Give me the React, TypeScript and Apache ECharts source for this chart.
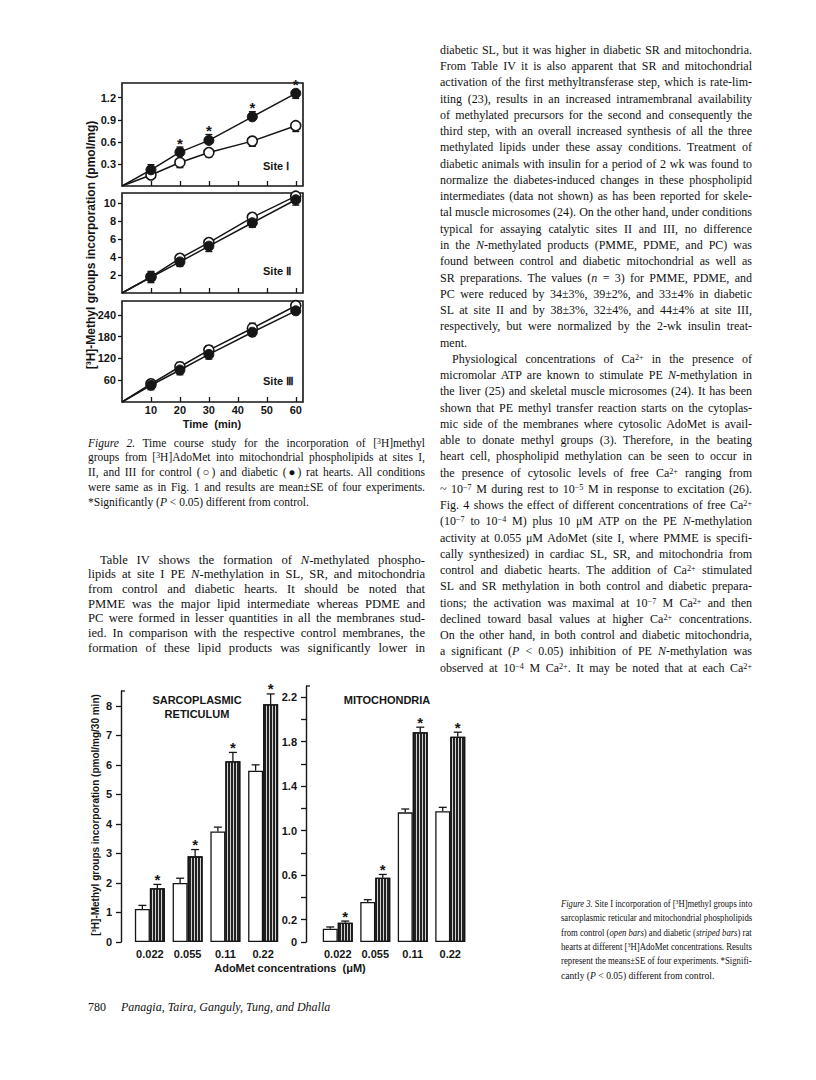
import React, { useEffect, useRef } from "react";
import * as echarts from "echarts";

const INK = "#161616";
const SANS = "'Liberation Sans', Arial, Helvetica, sans-serif";
const SERIF = "'Liberation Serif', 'Times New Roman', serif";

// ---------------- Figure 2 data (time course) ----------------
const times = [10, 20, 30, 45, 60];
const timeTicks = [10, 20, 30, 40, 50, 60];
const site1Ticks = [0.3, 0.6, 0.9, 1.2];
const site2Ticks = [2, 4, 6, 8, 10];
const site3Ticks = [60, 120, 180, 240];
const site1Control = [0.15, 0.32, 0.455, 0.61, 0.82];
const site1Diabetic = [0.22, 0.46, 0.62, 0.94, 1.26];
const site1ControlErr = [-0.03, -0.07, -0.06, -0.07, -0.08];
const site1DiabeticErr = [0.07, 0.07, 0.08, 0.07, -0.07];
const site1Signif = [false, true, true, true, true];
const site2Control = [1.8, 3.85, 5.6, 8.4, 10.75];
const site2Diabetic = [1.75, 3.45, 5.2, 7.8, 10.35];
const site2ControlErr = [0.6, 0.35, 0.35, 0.35, 0.25];
const site2DiabeticErr = [-0.6, -0.5, -0.6, -0.5, -0.6];
const site3Control = [50, 97, 143, 203, 265];
const site3Diabetic = [46, 88, 131, 192, 251];
const site3ControlErr = [10, 12, 12, 14, 8];
const site3DiabeticErr = [-12, -13, -13, -10, -10];

// ---------------- Figure 3 data (AdoMet concentrations) ----------------
const adoMetConc = ["0.022", "0.055", "0.11", "0.22"];
const srTicks = [0, 1, 2, 3, 4, 5, 6, 7, 8];
const srControl = [1.12, 2.0, 3.74, 5.8];
const srDiabetic = [1.82, 2.9, 6.12, 8.05];
const srControlErr = [0.12, 0.16, 0.15, 0.2];
const srDiabeticErr = [0.13, 0.23, 0.3, 0.35];
const mitoTicks = [0, 0.2, 0.4, 0.6, 0.8, 1.0, 1.2, 1.4, 1.6, 1.8, 2.0, 2.2];
const mitoLabels = [0, 0.2, 0.6, 1.0, 1.4, 1.8, 2.2];
const mitoControl = [0.12, 0.36, 1.165, 1.175];
const mitoDiabetic = [0.173, 0.577, 1.885, 1.845];
const mitoControlErr = [0.015, 0.02, 0.03, 0.035];
const mitoDiabeticErr = [0.015, 0.03, 0.045, 0.04];
const diabeticSignif = [true, true, true, true];

// ---------------- Page text ----------------
const SUP = (s: string) =>
  `<span style="font-size:0.68em;vertical-align:0.42em;line-height:0">${s}</span>`;
const I = (s: string) => `<i>${s}</i>`;

type TL = { h: string; left?: boolean; ind?: boolean };

const rightColumn: TL[] = [
  { h: "diabetic SL, but it was higher in diabetic SR and mitochondria." },
  { h: "From Table IV it is also apparent that SR and mitochondrial" },
  { h: "activation of the first methyltransferase step, which is rate-lim-" },
  { h: "iting (23), results in an increased intramembranal availability" },
  { h: "of methylated precursors for the second and consequently the" },
  { h: "third step, with an overall increased synthesis of all the three" },
  { h: "methylated lipids under these assay conditions. Treatment of" },
  { h: "diabetic animals with insulin for a period of 2 wk was found to" },
  { h: "normalize the diabetes-induced changes in these phospholipid" },
  { h: "intermediates (data not shown) as has been reported for skele-" },
  { h: "tal muscle microsomes (24). On the other hand, under conditions" },
  { h: "typical for assaying catalytic sites II and III, no difference" },
  { h: `in the ${I("N")}-methylated products (PMME, PDME, and PC) was` },
  { h: "found between control and diabetic mitochondrial as well as" },
  { h: `SR preparations. The values (${I("n")} = 3) for PMME, PDME, and` },
  { h: "PC were reduced by 34±3%, 39±2%, and 33±4% in diabetic" },
  { h: "SL at site II and by 38±3%, 32±4%, and 44±4% at site III," },
  { h: "respectively, but were normalized by the 2-wk insulin treat-" },
  { h: "ment.", left: true },
  { h: `Physiological concentrations of Ca${SUP("2+")} in the presence of`, ind: true },
  { h: `micromolar ATP are known to stimulate PE ${I("N")}-methylation in` },
  { h: "the liver (25) and skeletal muscle microsomes (24). It has been" },
  { h: "shown that PE methyl transfer reaction starts on the cytoplas-" },
  { h: "mic side of the membranes where cytosolic AdoMet is avail-" },
  { h: "able to donate methyl groups (3). Therefore, in the beating" },
  { h: "heart cell, phospholipid methylation can be seen to occur in" },
  { h: `the presence of cytosolic levels of free Ca${SUP("2+")} ranging from` },
  { h: `~ 10${SUP("−7")} M during rest to 10${SUP("−5")} M in response to excitation (26).` },
  { h: `Fig. 4 shows the effect of different concentrations of free Ca${SUP("2+")}` },
  { h: `(10${SUP("−7")} to 10${SUP("−4")} M) plus 10 μM ATP on the PE ${I("N")}-methylation` },
  { h: "activity at 0.055 μM AdoMet (site I, where PMME is specifi-" },
  { h: "cally synthesized) in cardiac SL, SR, and mitochondria from" },
  { h: `control and diabetic hearts. The addition of Ca${SUP("2+")} stimulated` },
  { h: "SL and SR methylation in both control and diabetic prepara-" },
  { h: `tions; the activation was maximal at 10${SUP("−7")} M Ca${SUP("2+")} and then` },
  { h: `declined toward basal values at higher Ca${SUP("2+")} concentrations.` },
  { h: "On the other hand, in both control and diabetic mitochondria," },
  { h: `a significant (${I("P")} &lt; 0.05) inhibition of PE ${I("N")}-methylation was` },
  { h: `observed at 10${SUP("−4")} M Ca${SUP("2+")}. It may be noted that at each Ca${SUP("2+")}` },
];

const leftParagraph: TL[] = [
  { h: `Table IV shows the formation of ${I("N")}-methylated phospho-`, ind: true },
  { h: `lipids at site I PE ${I("N")}-methylation in SL, SR, and mitochondria` },
  { h: "from control and diabetic hearts. It should be noted that" },
  { h: "PMME was the major lipid intermediate whereas PDME and" },
  { h: "PC were formed in lesser quantities in all the membranes stud-" },
  { h: "ied. In comparison with the respective control membranes, the" },
  { h: "formation of these lipid products was significantly lower in" },
];

const caption2: TL[] = [
  { h: `${I("Figure 2.")} Time course study for the incorporation of [${SUP("3")}H]methyl` },
  { h: `groups from [${SUP("3")}H]AdoMet into mitochondrial phospholipids at sites I,` },
  { h: "II, and III for control (○) and diabetic (●) rat hearts. All conditions" },
  { h: "were same as in Fig. 1 and results are mean±SE of four experiments." },
  { h: `*Significantly (${I("P")} &lt; 0.05) different from control.`, left: true },
];

const caption3: TL[] = [
  { h: `${I("Figure 3.")} Site I incorporation of [${SUP("3")}H]methyl groups into` },
  { h: "sarcoplasmic reticular and mitochondrial phospholipids" },
  { h: `from control (${I("open bars")}) and diabetic (${I("striped bars")}) rat` },
  { h: `hearts at different [${SUP("3")}H]AdoMet concentrations. Results` },
  { h: "represent the means±SE of four experiments. *Signifi-" },
  { h: `cantly (${I("P")} &lt; 0.05) different from control.`, left: true },
];

type Block = { x: number; y0: number; dy: number; w: number; size: number; lines: TL[] };
const blocks: Block[] = [
  { x: 440, y0: 51, dy: 16.26, w: 312, size: 12, lines: rightColumn },
  { x: 88, y0: 561, dy: 14.7, w: 337, size: 12.6, lines: leftParagraph },
  { x: 88, y0: 444, dy: 14.75, w: 337, size: 11.5, lines: caption2 },
  { x: 561, y0: 905, dy: 14.4, w: 191, size: 9.6, lines: caption3 },
];

// ---------------- ECharts helpers ----------------
const axisFont = { fontFamily: SANS, fontSize: 11, fontWeight: "bold" as const, color: INK };

function errorBar(capHalf: number, xShift = 0) {
  return (_p: any, api: any) => {
    const x = api.value(0);
    const y = api.value(1);
    const e = api.value(2);
    const side = api.value(3) || 0;
    const p = api.coord([x, y]);
    const q = api.coord([x, y + e]);
    const px = p[0] + side * xShift;
    const st = { stroke: INK, lineWidth: 1.3 };
    return {
      type: "group",
      children: [
        { type: "line", shape: { x1: px, y1: p[1], x2: px, y2: q[1] }, style: st },
        { type: "line", shape: { x1: px - capHalf, y1: q[1], x2: px + capHalf, y2: q[1] }, style: st },
      ],
    };
  };
}

function starMark(radius: number, gap: number, xShift = 0) {
  return (_p: any, api: any) => {
    const x = api.value(0);
    const y = api.value(1);
    const e = api.value(2);
    const side = api.value(3) || 0;
    const p = api.coord([x, y]);
    const q = api.coord([x, y + e]);
    const top = Math.min(q[1], p[1] - radius);
    return {
      type: "text",
      x: p[0] + side * xShift,
      y: top - gap + 4,
      style: {
        text: "*",
        fontSize: 15,
        fontWeight: "bold",
        fontFamily: SANS,
        fill: INK,
        align: "center",
        verticalAlign: "middle",
      },
    };
  };
}

function fig2Grid(top: number, height: number) {
  return { left: 122, top, width: 181, height, show: true, borderColor: INK, borderWidth: 1.6, backgroundColor: "rgba(0,0,0,0)" };
}

function fig2X(gi: number, labels: boolean) {
  return {
    gridIndex: gi,
    type: "value",
    min: 0,
    max: 62.5,
    axisLine: { show: false },
    axisTick: { show: true, inside: true, length: 5, customValues: timeTicks, lineStyle: { color: INK, width: 1.3 } },
    axisLabel: { show: labels, customValues: timeTicks, margin: 2, ...axisFont },
    splitLine: { show: false },
  };
}

function fig2Y(gi: number, max: number, ticks: number[], fmt: (v: number) => string) {
  return {
    gridIndex: gi,
    type: "value",
    min: 0,
    max,
    axisLine: { show: false },
    axisTick: { show: true, length: 4, customValues: ticks, lineStyle: { color: INK, width: 1.3 } },
    axisLabel: { customValues: ticks, formatter: fmt, margin: 6, ...axisFont },
    splitLine: { show: false },
  };
}

function timeSeries(k: number, control: number[], diabetic: number[], cErr: number[], dErr: number[], signif?: boolean[]) {
  const toData = (vals: number[]) => [{ value: [0, 0], symbol: "none" }, ...times.map((t, i) => [t, vals[i]])];
  const list: any[] = [
    {
      type: "line",
      xAxisIndex: k,
      yAxisIndex: k,
      data: toData(control),
      symbol: "circle",
      symbolSize: 10,
      itemStyle: { color: "#fff", borderColor: INK, borderWidth: 1.6 },
      lineStyle: { color: INK, width: 1.5 },
      z: 4,
    },
    {
      type: "line",
      xAxisIndex: k,
      yAxisIndex: k,
      data: toData(diabetic),
      symbol: "circle",
      symbolSize: 10,
      itemStyle: { color: INK, borderColor: INK, borderWidth: 1 },
      lineStyle: { color: INK, width: 1.5 },
      z: 5,
    },
    {
      type: "custom",
      xAxisIndex: k,
      yAxisIndex: k,
      encode: { x: 0, y: 1 },
      renderItem: errorBar(3.5),
      data: times.map((t, i) => [t, control[i], cErr[i]]),
      z: 3,
    },
    {
      type: "custom",
      xAxisIndex: k,
      yAxisIndex: k,
      encode: { x: 0, y: 1 },
      renderItem: errorBar(3.5),
      data: times.map((t, i) => [t, diabetic[i], dErr[i]]),
      z: 3,
    },
  ];
  if (signif) {
    list.push({
      type: "custom",
      xAxisIndex: k,
      yAxisIndex: k,
      encode: { x: 0, y: 1 },
      renderItem: starMark(5, 8),
      data: times.map((t, i) => [t, diabetic[i], dErr[i]]).filter((_, i) => signif[i]),
      z: 6,
    });
  }
  return list;
}

function barSeries(k: number, control: number[], diabetic: number[], cErr: number[], dErr: number[], signif: boolean[]) {
  const striped = {
    color: "#d2d2d2",
    borderColor: INK,
    borderWidth: 1.3,
    decal: {
      symbol: "rect",
      symbolSize: 1,
      symbolKeepAspect: false,
      dashArrayX: [2, 1],
      dashArrayY: [4, 0],
      color: "#222",
      rotation: 0,
    },
  };
  return [
    {
      type: "bar",
      xAxisIndex: k,
      yAxisIndex: k,
      data: control,
      barWidth: 15,
      barGap: "0%",
      itemStyle: { color: "#fff", borderColor: INK, borderWidth: 1.3 },
      z: 2,
    },
    {
      type: "bar",
      xAxisIndex: k,
      yAxisIndex: k,
      data: diabetic,
      barWidth: 15,
      barGap: "0%",
      itemStyle: striped,
      z: 2,
    },
    {
      type: "custom",
      xAxisIndex: k,
      yAxisIndex: k,
      encode: { x: 0, y: 1 },
      renderItem: errorBar(4, 7.5),
      data: control.map((v, i) => [i, v, cErr[i], -1]).concat(diabetic.map((v, i) => [i, v, dErr[i], 1])),
      z: 3,
    },
    {
      type: "custom",
      xAxisIndex: k,
      yAxisIndex: k,
      encode: { x: 0, y: 1 },
      renderItem: starMark(0, 9, 7.5),
      data: diabetic.map((v, i) => [i, v, dErr[i], 1]).filter((_, i) => signif[i]),
      z: 4,
    },
  ];
}

function gText(x: number, y: number, text: string, extra: any = {}) {
  return {
    type: "text",
    x,
    y,
    rotation: extra.rotation || 0,
    style: {
      text,
      fontFamily: SANS,
      fontSize: extra.fontSize || 11,
      fontWeight: "bold",
      fill: INK,
      align: extra.align || "left",
      verticalAlign: "middle",
    },
  };
}

function buildOption() {
  const oneDec = (v: number) => v.toFixed(1);
  const plain = (v: number) => String(v);
  return {
    animation: false,
    grid: [
      fig2Grid(83, 103),
      fig2Grid(193, 100),
      fig2Grid(301, 101),
      { left: 131, top: 691, width: 151, height: 251 },
      { left: 319, top: 686, width: 150, height: 256 },
    ],
    xAxis: [
      fig2X(0, false),
      fig2X(1, false),
      fig2X(2, true),
      {
        gridIndex: 3,
        type: "category",
        data: adoMetConc,
        axisLine: { show: false },
        axisTick: { show: false },
        axisLabel: { margin: 6, ...axisFont },
      },
      {
        gridIndex: 4,
        type: "category",
        data: adoMetConc,
        axisLine: { show: false },
        axisTick: { show: false },
        axisLabel: { margin: 6, ...axisFont },
      },
    ],
    yAxis: [
      fig2Y(0, 1.4, site1Ticks, oneDec),
      fig2Y(1, 11.1, site2Ticks, plain),
      fig2Y(2, 278, site3Ticks, plain),
      {
        gridIndex: 3,
        type: "value",
        min: 0,
        max: 8.5,
        offset: 10,
        axisLine: { show: true, lineStyle: { color: INK, width: 1.4 } },
        axisTick: { show: true, length: 5, customValues: srTicks, lineStyle: { color: INK, width: 1.3 } },
        axisLabel: { customValues: srTicks, margin: 9, ...axisFont },
        splitLine: { show: false },
      },
      {
        gridIndex: 4,
        type: "value",
        min: 0,
        max: 2.3,
        offset: 13,
        axisLine: { show: true, lineStyle: { color: INK, width: 1.4 } },
        axisTick: { show: true, length: 5, customValues: mitoTicks, lineStyle: { color: INK, width: 1.3 } },
        axisLabel: {
          customValues: mitoLabels,
          formatter: (v: number) => (v === 0 ? "0" : v.toFixed(1)),
          margin: 9,
          ...axisFont,
        },
        splitLine: { show: false },
      },
    ],
    series: [
      ...timeSeries(0, site1Control, site1Diabetic, site1ControlErr, site1DiabeticErr, site1Signif),
      ...timeSeries(1, site2Control, site2Diabetic, site2ControlErr, site2DiabeticErr),
      ...timeSeries(2, site3Control, site3Diabetic, site3ControlErr, site3DiabeticErr),
      ...barSeries(3, srControl, srDiabetic, srControlErr, srDiabeticErr, diabeticSignif),
      ...barSeries(4, mitoControl, mitoDiabetic, mitoControlErr, mitoDiabeticErr, diabeticSignif),
    ],
    graphic: [
      gText(263, 166, "Site Ⅰ", { fontSize: 11 }),
      gText(263, 271, "Site Ⅱ", { fontSize: 11 }),
      gText(263, 381, "Site Ⅲ", { fontSize: 11 }),
      gText(212, 424, "Time  (min)", { align: "center" }),
      gText(91, 245, "[³H]-Methyl groups incorporation (pmol/mg)", { align: "center", rotation: Math.PI / 2, fontSize: 12 }),
      gText(197, 700, "SARCOPLASMIC", { align: "center" }),
      gText(197, 714, "RETICULUM", { align: "center" }),
      gText(387, 700, "MITOCHONDRIA", { align: "center" }),
      gText(95, 815, "[³H]-Methyl groups incorporation (pmol/mg/30 min)", { align: "center", rotation: Math.PI / 2, fontSize: 10 }),
      gText(290, 968, "AdoMet concentrations  (μM)", { align: "center" }),
      { type: "line", shape: { x1: 121, y1: 691, x2: 125, y2: 691 }, style: { stroke: INK, lineWidth: 1.3 } },
      { type: "line", shape: { x1: 306, y1: 686, x2: 310, y2: 686 }, style: { stroke: INK, lineWidth: 1.3 } },
    ],
  };
}

function TextBlock({ b }: { b: Block }) {
  const lh = b.dy;
  return (
    <>
      {b.lines.map((l, i) => (
        <div
          key={i}
          data-fit="1"
          style={{
            position: "absolute",
            left: b.x + (l.ind ? 12 : 0),
            top: b.y0 + i * b.dy - lh / 2 - 1,
            width: b.w - (l.ind ? 12 : 0),
            height: lh,
            lineHeight: `${lh}px`,
            fontFamily: SERIF,
            fontSize: b.size,
            color: "#111",
            whiteSpace: "nowrap",
            textAlign: l.left ? "left" : "justify",
            textAlignLast: l.left ? "left" : "justify",
            transformOrigin: "left center",
          }}
          dangerouslySetInnerHTML={{ __html: l.h }}
        />
      ))}
    </>
  );
}

export default function App() {
  const chartRef = useRef<HTMLDivElement>(null);
  const textRef = useRef<HTMLDivElement>(null);

  useEffect(() => {
    const chart = echarts.init(chartRef.current!, undefined, { renderer: "svg", width: 816, height: 1080 });
    chart.setOption(buildOption() as any);
    const root = textRef.current;
    if (root) {
      root.querySelectorAll<HTMLDivElement>("[data-fit]").forEach((el) => {
        const sw = el.scrollWidth;
        const cw = el.clientWidth;
        if (sw > cw + 0.5) el.style.transform = `scaleX(${cw / sw})`;
      });
    }
    return () => chart.dispose();
  }, []);

  return (
    <div style={{ position: "absolute", left: 0, top: 0, width: 816, height: 1080, background: "#fff", overflow: "hidden" }}>
      <div ref={chartRef} style={{ position: "absolute", left: 0, top: 0, width: 816, height: 1080 }} />
      <div ref={textRef} style={{ position: "absolute", left: 0, top: 0, width: 816, height: 1080, pointerEvents: "none" }}>
        {blocks.map((b, i) => (
          <TextBlock key={i} b={b} />
        ))}
        <div style={{ position: "absolute", left: 88, top: 999, fontFamily: SERIF, fontSize: 12, lineHeight: "16px", color: "#111" }}>
          780
        </div>
        <div style={{ position: "absolute", left: 121, top: 999, fontFamily: SERIF, fontSize: 12, fontStyle: "italic", lineHeight: "16px", color: "#111" }}>
          Panagia, Taira, Ganguly, Tung, and Dhalla
        </div>
      </div>
    </div>
  );
}
